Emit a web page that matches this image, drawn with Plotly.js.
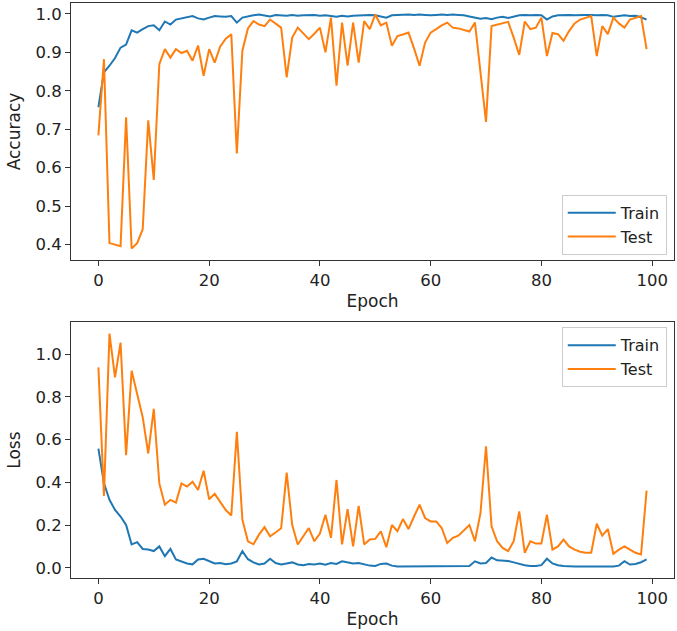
<!DOCTYPE html>
<html>
<head>
<meta charset="utf-8">
<script src="https://cdn.plot.ly/plotly-3.0.1.min.js"></script>
<style>html,body{margin:0;padding:0;background:#fff;}#chart{width:677px;height:631px;}</style>
</head>
<body>
<div id="chart"></div>
<script>
const epochs = Array.from({length: 100}, (_, i) => i);

const trainAcc = [0.757,0.848,0.865,0.885,0.912,0.920,0.957,0.951,0.960,0.968,
0.970,0.957,0.980,0.972,0.985,0.988,0.990,0.994,0.988,0.985,
0.990,0.994,0.993,0.992,0.994,0.977,0.990,0.994,0.996,0.998,
0.995,0.993,0.997,0.996,0.995,0.997,0.995,0.996,0.996,0.997,
0.995,0.996,0.994,0.992,0.995,0.993,0.995,0.996,0.996,0.997,
0.996,0.993,0.990,0.996,0.997,0.997,0.998,0.997,0.998,0.997,
0.996,0.997,0.998,0.997,0.998,0.997,0.996,0.993,0.990,0.987,
0.989,0.986,0.990,0.992,0.989,0.993,0.996,0.997,0.996,0.997,
0.996,0.985,0.993,0.996,0.997,0.997,0.996,0.997,0.997,0.997,
0.996,0.997,0.996,0.992,0.995,0.996,0.994,0.995,0.991,0.985];

const testAcc = [0.684,0.882,0.404,0.400,0.396,0.731,0.390,0.404,0.440,0.723,
0.568,0.869,0.908,0.886,0.908,0.898,0.904,0.878,0.917,0.839,
0.908,0.873,0.915,0.935,0.947,0.637,0.904,0.962,0.981,0.972,
0.968,0.985,0.975,0.964,0.835,0.938,0.964,0.950,0.934,0.948,
0.964,0.900,0.990,0.813,0.977,0.865,0.977,0.873,0.981,0.960,
0.998,0.970,0.977,0.917,0.942,0.946,0.951,0.910,0.865,0.925,
0.951,0.960,0.970,0.977,0.964,0.962,0.958,0.954,0.977,0.850,
0.719,0.968,0.972,0.975,0.979,0.938,0.893,0.980,0.960,0.964,
0.990,0.890,0.950,0.947,0.930,0.955,0.975,0.985,0.990,0.994,
0.890,0.968,0.947,0.990,0.975,0.964,0.985,0.990,0.994,0.908];

const trainLoss = [0.558,0.395,0.318,0.271,0.240,0.200,0.109,0.120,0.088,0.085,
0.078,0.100,0.054,0.088,0.039,0.028,0.020,0.016,0.039,0.042,
0.030,0.020,0.022,0.016,0.020,0.030,0.078,0.040,0.025,0.015,
0.020,0.042,0.022,0.015,0.020,0.025,0.015,0.012,0.018,0.015,
0.020,0.014,0.022,0.018,0.030,0.024,0.020,0.022,0.015,0.010,
0.008,0.018,0.020,0.010,0.006,0.006,0.008,0.007,0.008,0.006,
0.006,0.008,0.006,0.007,0.006,0.006,0.006,0.008,0.030,0.020,
0.022,0.048,0.035,0.035,0.032,0.025,0.018,0.012,0.008,0.008,
0.012,0.042,0.020,0.012,0.008,0.006,0.006,0.006,0.006,0.007,
0.006,0.006,0.006,0.006,0.010,0.031,0.015,0.018,0.026,0.039];

const testLoss = [0.938,0.336,1.096,0.891,1.054,0.527,0.922,0.814,0.705,0.535,
0.744,0.395,0.295,0.318,0.305,0.395,0.380,0.403,0.364,0.454,
0.321,0.346,0.310,0.270,0.245,0.636,0.225,0.124,0.110,0.155,
0.190,0.147,0.165,0.185,0.445,0.200,0.109,0.150,0.186,0.124,
0.160,0.248,0.140,0.411,0.109,0.274,0.100,0.290,0.109,0.132,
0.135,0.171,0.096,0.200,0.171,0.228,0.181,0.240,0.295,0.233,
0.217,0.217,0.186,0.116,0.140,0.150,0.175,0.200,0.124,0.256,
0.569,0.194,0.124,0.093,0.078,0.124,0.264,0.070,0.124,0.113,
0.113,0.248,0.085,0.100,0.132,0.100,0.085,0.075,0.070,0.070,
0.206,0.150,0.181,0.065,0.085,0.100,0.085,0.070,0.062,0.361];

const seriesNames = ['Train', 'Test'];
const xTicks = [0, 20, 40, 60, 80, 100];
const accTicks = [0.4, 0.5, 0.6, 0.7, 0.8, 0.9, 1.0];
const lossTicks = [0.0, 0.2, 0.4, 0.6, 0.8, 1.0];

const blue = '#1f77b4', orange = '#ff7f0e';
const font = 'DejaVu Sans, sans-serif';
const titleFont = {family: font, size: 17, color: '#222'};

const traces = [
  {x: epochs, y: trainAcc, name: seriesNames[0], mode: 'lines', line: {color: blue, width: 2}, xaxis: 'x', yaxis: 'y', legend: 'legend'},
  {x: epochs, y: testAcc, name: seriesNames[1], mode: 'lines', line: {color: orange, width: 2}, xaxis: 'x', yaxis: 'y', legend: 'legend'},
  {x: epochs, y: trainLoss, name: seriesNames[0], mode: 'lines', line: {color: blue, width: 2}, xaxis: 'x2', yaxis: 'y2', legend: 'legend2'},
  {x: epochs, y: testLoss, name: seriesNames[1], mode: 'lines', line: {color: orange, width: 2}, xaxis: 'x2', yaxis: 'y2', legend: 'legend2'}
];

const axisCommon = {
  showgrid: false, zeroline: false, showline: true, mirror: true,
  linecolor: '#333', linewidth: 1, ticks: 'outside', ticklen: 5, tickwidth: 1, tickcolor: '#333',
  tickfont: {family: font, size: 16.5, color: '#222'}
};

const legendCommon = {
  bgcolor: 'rgba(255,255,255,0.9)', bordercolor: '#ccc', borderwidth: 1,
  font: {family: font, size: 16, color: '#222'}, xanchor: 'right', x: 0.988,
  tracegroupgap: 0, itemwidth: 48
};

const layout = {
  width: 677, height: 631,
  margin: {l: 71, r: 3, t: 3, b: 53},
  paper_bgcolor: '#fff', plot_bgcolor: '#fff',
  showlegend: true,
  font: {family: font, color: '#222'},
  xaxis: Object.assign({}, axisCommon, {domain: [0, 1], anchor: 'y', range: [-4.95, 103.95], tickvals: xTicks, ticktext: xTicks.map(String),
    title: {text: 'Epoch', font: titleFont, standoff: 6}}),
  yaxis: Object.assign({}, axisCommon, {domain: [0.553, 1], anchor: 'x', range: [0.36, 1.028], tickvals: accTicks, ticktext: accTicks.map(v => v.toFixed(1)),
    title: {text: 'Accuracy', font: titleFont, standoff: 10}}),
  xaxis2: Object.assign({}, axisCommon, {domain: [0, 1], anchor: 'y2', range: [-4.95, 103.95], tickvals: xTicks, ticktext: xTicks.map(String),
    title: {text: 'Epoch', font: titleFont, standoff: 6}}),
  yaxis2: Object.assign({}, axisCommon, {domain: [0, 0.445], anchor: 'x2', range: [-0.048, 1.15], tickvals: lossTicks, ticktext: lossTicks.map(v => v.toFixed(1)),
    title: {text: 'Loss', font: titleFont, standoff: 10}}),
  legend: Object.assign({}, legendCommon, {yanchor: 'bottom', y: 0.562}),
  legend2: Object.assign({}, legendCommon, {yanchor: 'top', y: 0.436})
};

Plotly.newPlot('chart', traces, layout, {displayModeBar: false, staticPlot: true});
</script>
</body>
</html>
